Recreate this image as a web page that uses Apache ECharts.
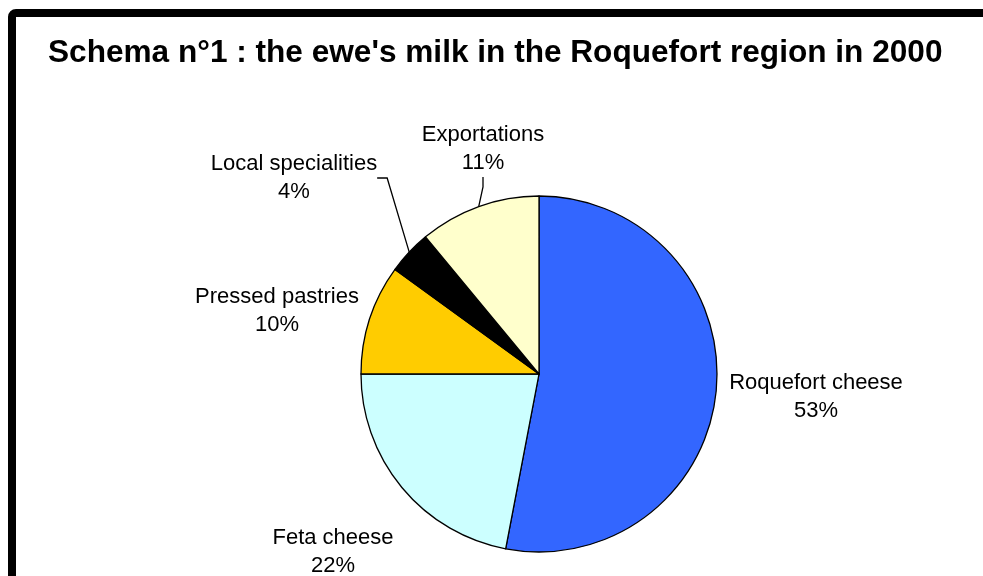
<!DOCTYPE html>
<html>
<head>
<meta charset="utf-8">
<script src="https://cdn.jsdelivr.net/npm/echarts@6/dist/echarts.min.js"></script>
<style>
  html, body { margin: 0; padding: 0; background: #fff; }
  #chart { width: 983px; height: 576px; }
</style>
</head>
<body>
<div id="chart"></div>
<script>
var titleText = "Schema n°1 : the ewe's milk in the Roquefort region in 2000";
var names = ['Roquefort cheese', 'Feta cheese', 'Pressed pastries', 'Local specialities', 'Exportations'];
var shares = [53, 22, 10, 4, 11];

var colors = ['#3366FF', '#CCFFFF', '#FFCC00', '#000000', '#FFFFCC'];
// where each label block sits (centre of the two lines)
var labelPos = [[816, 397], [333, 552], [277, 311], [294, 178], [483, 149]];
var withLine = [false, false, false, true, true];

var chart = echarts.init(document.getElementById('chart'));

var pieData = [];
for (let i = 0; i < names.length; i++) {
    pieData.push({
        name: names[i],
        value: shares[i],
        itemStyle: { color: colors[i] },
        labelLine: { show: withLine[i] }
    });
}

let option = {
    backgroundColor: '#ffffff',
    animation: false,
    title: {
        text: titleText,
        left: 48,
        top: 37,
        padding: 0,
        textStyle: {
            fontFamily: 'Liberation Sans, Arial, sans-serif',
            fontWeight: 'bold',
            fontSize: 31.6,
            color: '#000'
        }
    },
    graphic: [{
        type: 'rect',
        z: -1,
        shape: { x: 12, y: 13, width: 1000, height: 620, r: 4 },
        style: { fill: 'none', stroke: '#000', lineWidth: 8 }
    }],
    series: [{
        type: 'pie',
        center: [539, 374],
        radius: 178,
        startAngle: 90,
        clockwise: true,
        avoidLabelOverlap: false,
        data: pieData,
        itemStyle: {
            borderColor: '#000',
            borderWidth: 1.3
        },
        label: {
            show: true,
            position: 'outside',
            formatter: '{b}\n{c}%',
            fontFamily: 'Liberation Sans, Arial, sans-serif',
            fontSize: 22,
            lineHeight: 28,
            color: '#000',
            align: 'center'
        },
        labelLine: {
            length: 15,
            length2: 10,
            lineStyle: { color: '#000', width: 1.3 }
        },
        labelLayout: function (params) {
            var p = labelPos[params.dataIndex];
            return {
                x: p[0],
                y: p[1],
                align: 'center',
                verticalAlign: 'middle'
            };
        }
    }]
};
chart.setOption(option);
</script>
</body>
</html>
